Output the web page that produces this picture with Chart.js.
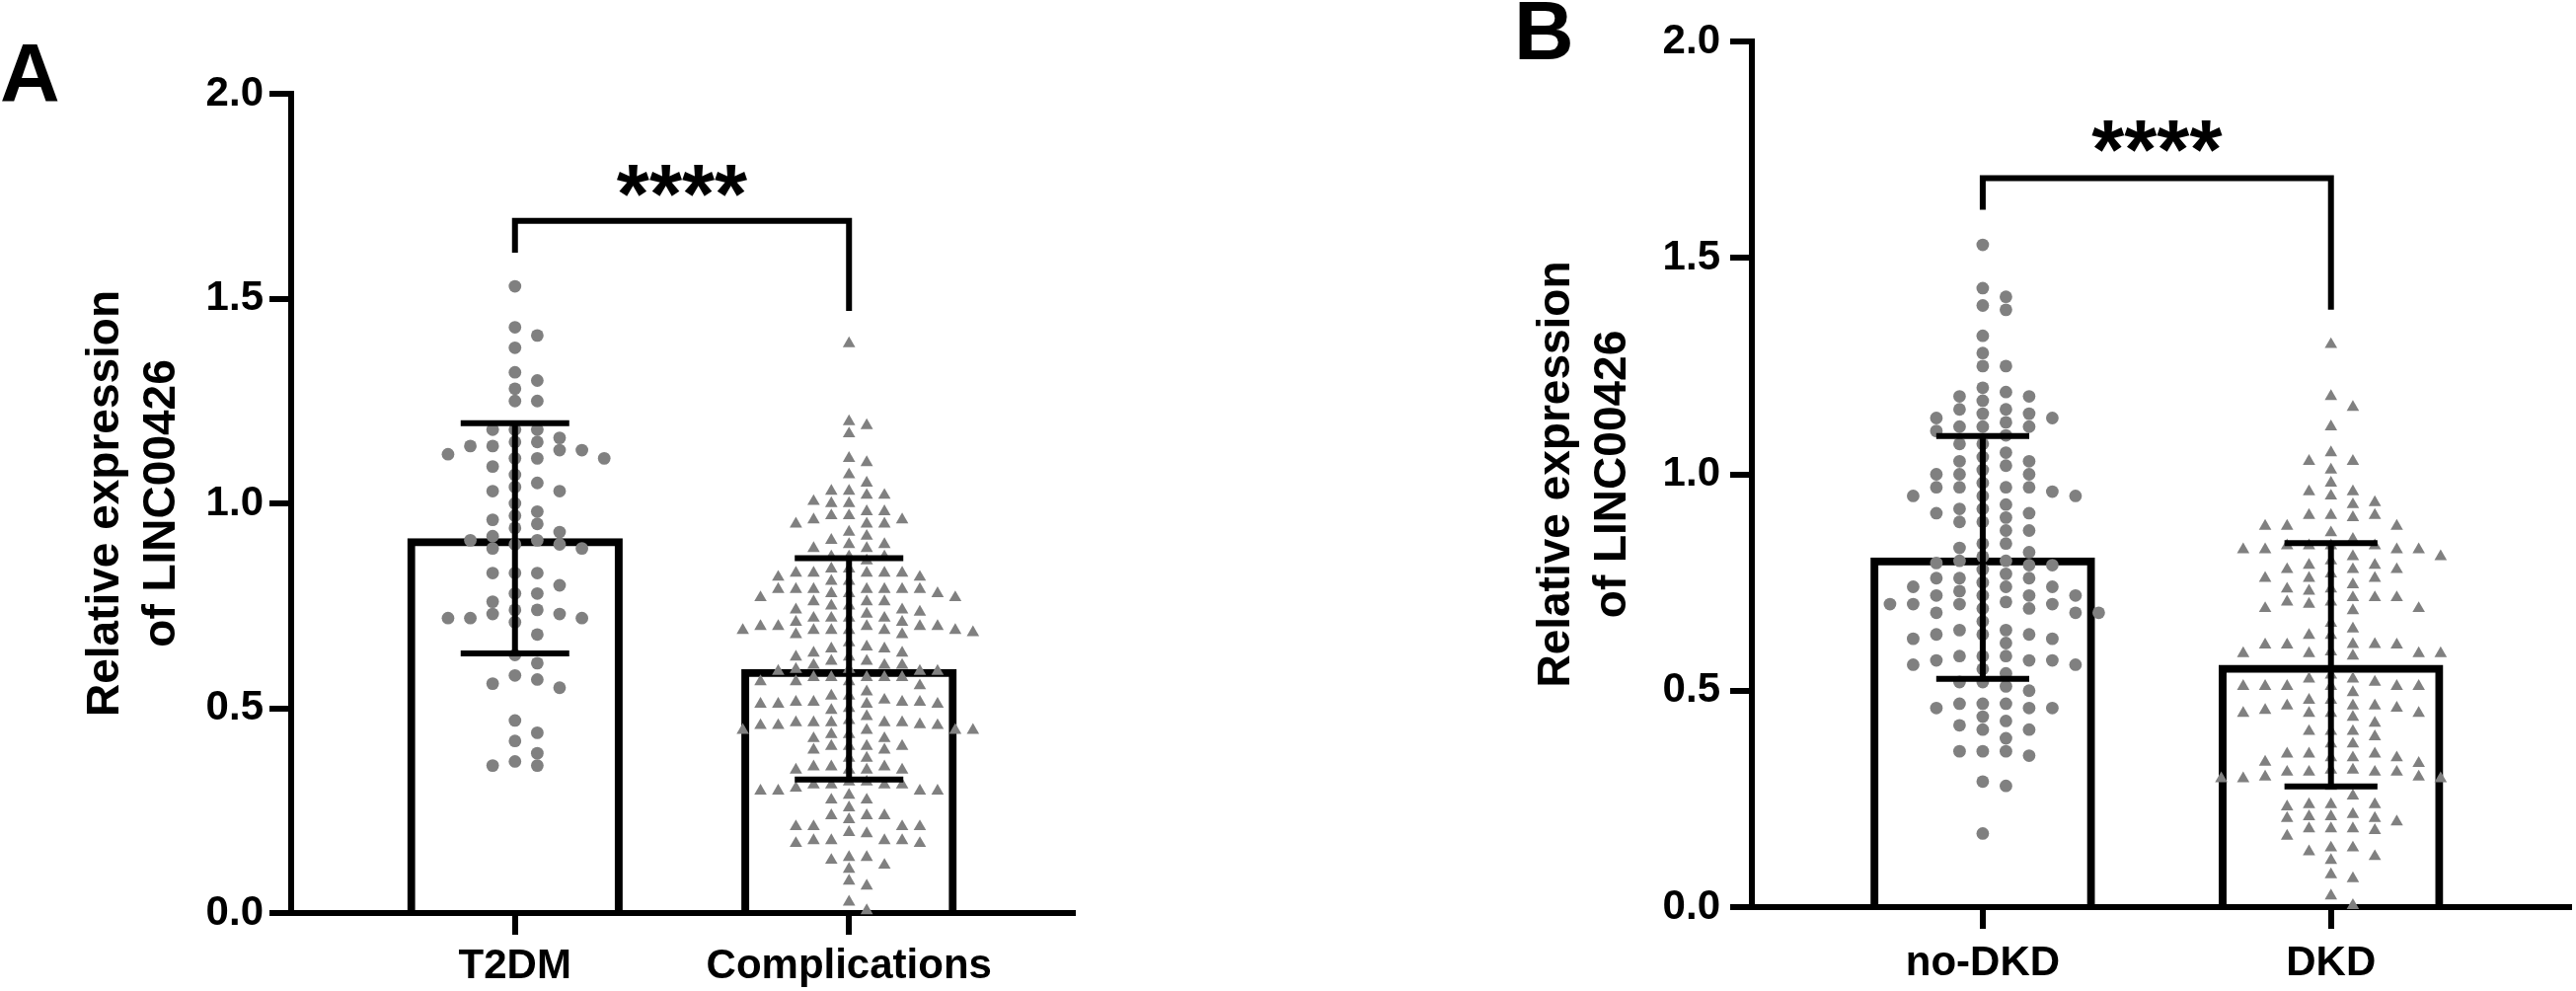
<!DOCTYPE html>
<html lang="en">
  <head>
    <meta charset="UTF-8" />
    <title>LINC00426 expression</title>
    <script src="https://cdn.jsdelivr.net/npm/chart.js"></script>
    <style>
      body { margin: 0; background: #fff; width: 2610px; height: 1004px; position: relative; overflow: hidden; }
      canvas { position: absolute; top: 0; }
      #chartA { left: 0; }
      #chartB { left: 1470px; }
      .panel-letter {
        position: absolute;
        font-family: "Liberation Sans", Arial, sans-serif;
        font-weight: bold;
        font-size: 84px;
        line-height: 84px;
        color: #000;
      }
    </style>
  </head>
  <body>
    <div class="panel-letter" style="left: 0; top: 32px">A</div>
    <div class="panel-letter" style="left: 1534px; top: -11px">B</div>
    <canvas id="chartA" width="1100" height="1004"></canvas>
    <canvas id="chartB" width="1140" height="1004"></canvas>

    <script>
      // ---- data ----
      var yTitle = ["Relative expression", "of LINC00426"];
      var yTicks = [0, 0.5, 1.0, 1.5, 2.0];

      // panel A
      var categoriesA = ["T2DM", "Complications"];
      var meansA = [0.915, 0.596];
      var sdA = [0.281, 0.27];
      var t2dm = [
        1.53, 1.43, 1.41, 1.38, 1.32, 1.3, 1.28, 1.25, 1.25, 1.18, 1.18, 1.18,
        1.16, 1.15, 1.15, 1.14, 1.14, 1.13, 1.13, 1.12, 1.11, 1.11, 1.11, 1.09,
        1.07, 1.05, 1.04, 1.03, 1.03, 1.0, 0.98, 0.97, 0.96, 0.95, 0.94, 0.93,
        0.92, 0.91, 0.91, 0.9, 0.9, 0.89, 0.89, 0.83, 0.83, 0.83, 0.8, 0.78,
        0.78, 0.76, 0.74, 0.74, 0.73, 0.73, 0.72, 0.72, 0.72, 0.71, 0.68, 0.63,
        0.61, 0.58, 0.57, 0.56, 0.55, 0.47, 0.44, 0.42, 0.39, 0.37, 0.36, 0.36,
      ];
      var complications = [
        1.39, 1.2, 1.19, 1.17, 1.11, 1.1, 1.07, 1.05, 1.03, 1.03, 1.02, 1.02,
        1.005, 1.0, 1.0, 0.98, 0.98, 0.97, 0.97, 0.96, 0.96, 0.95, 0.95, 0.95,
        0.93, 0.92, 0.91, 0.9, 0.9, 0.89, 0.89, 0.87, 0.87, 0.87, 0.86, 0.84,
        0.84, 0.83, 0.83, 0.83, 0.83, 0.83, 0.82, 0.82, 0.81, 0.81, 0.79, 0.79,
        0.79, 0.79, 0.79, 0.79, 0.79, 0.78, 0.78, 0.78, 0.77, 0.77, 0.76, 0.76,
        0.76, 0.75, 0.75, 0.74, 0.74, 0.735, 0.73, 0.72, 0.72, 0.72, 0.72, 0.71,
        0.71, 0.7, 0.7, 0.7, 0.7, 0.7, 0.69, 0.69, 0.69, 0.69, 0.69, 0.69,
        0.685, 0.68, 0.68, 0.66, 0.65, 0.645, 0.645, 0.635, 0.635, 0.625, 0.625,
        0.615, 0.615, 0.605, 0.605, 0.605, 0.595, 0.595, 0.59, 0.59, 0.59,
        0.575, 0.575, 0.575, 0.575, 0.575, 0.565, 0.565, 0.565, 0.555, 0.54,
        0.53, 0.53, 0.52, 0.515, 0.515, 0.515, 0.515, 0.51, 0.51, 0.51, 0.51,
        0.5, 0.495, 0.48, 0.47, 0.465, 0.465, 0.465, 0.465, 0.465, 0.46, 0.458,
        0.458, 0.458, 0.446, 0.446, 0.446, 0.446, 0.436, 0.436, 0.426, 0.426,
        0.407, 0.407, 0.407, 0.407, 0.398, 0.398, 0.378, 0.378, 0.357, 0.357,
        0.357, 0.349, 0.349, 0.349, 0.349, 0.32, 0.32, 0.313, 0.313, 0.313,
        0.313, 0.305, 0.298, 0.298, 0.298, 0.298, 0.288, 0.276, 0.276, 0.257,
        0.238, 0.238, 0.238, 0.228, 0.211, 0.211, 0.211, 0.211, 0.197, 0.194,
        0.177, 0.177, 0.177, 0.177, 0.17, 0.17, 0.136, 0.136, 0.129, 0.117,
        0.107, 0.078, 0.066, 0.027, 0.006,
      ];

      // panel B
      var categoriesB = ["no-DKD", "DKD"];
      var meansB = [0.808, 0.56];
      var sdB = [0.2805, 0.281];
      var noDkd = [
        1.53, 1.43, 1.41, 1.39, 1.38, 1.32, 1.28, 1.25, 1.25, 1.2, 1.19, 1.18,
        1.18, 1.17, 1.15, 1.15, 1.14, 1.14, 1.13, 1.13, 1.12, 1.11, 1.11, 1.11,
        1.1, 1.09, 1.07, 1.07, 1.05, 1.04, 1.03, 1.03, 1.02, 1.01, 1.0, 1.0,
        1.0, 0.98, 0.97, 0.97, 0.97, 0.97, 0.96, 0.95, 0.95, 0.95, 0.93, 0.92,
        0.92, 0.91, 0.91, 0.9, 0.89, 0.89, 0.87, 0.87, 0.84, 0.84, 0.83, 0.82,
        0.81, 0.8, 0.8, 0.795, 0.79, 0.79, 0.78, 0.77, 0.76, 0.76, 0.76, 0.75,
        0.74, 0.74, 0.74, 0.73, 0.72, 0.72, 0.72, 0.72, 0.705, 0.7, 0.7, 0.7,
        0.7, 0.69, 0.69, 0.68, 0.68, 0.68, 0.66, 0.64, 0.64, 0.63, 0.63, 0.63,
        0.62, 0.62, 0.61, 0.58, 0.58, 0.58, 0.57, 0.57, 0.57, 0.56, 0.56, 0.55,
        0.54, 0.52, 0.52, 0.51, 0.5, 0.47, 0.47, 0.47, 0.46, 0.46, 0.46, 0.44,
        0.43, 0.42, 0.41, 0.41, 0.39, 0.36, 0.36, 0.36, 0.35, 0.29, 0.28, 0.17,
      ];
      var dkd = [
        1.3, 1.18, 1.155, 1.11, 1.05, 1.03, 1.03, 1.01, 0.98, 0.96, 0.96, 0.95,
        0.935, 0.93, 0.905, 0.905, 0.905, 0.9, 0.88, 0.88, 0.88, 0.865, 0.85,
        0.835, 0.835, 0.835, 0.835, 0.826, 0.826, 0.826, 0.826, 0.81, 0.81, 0.8,
        0.79, 0.79, 0.78, 0.78, 0.78, 0.77, 0.76, 0.76, 0.76, 0.745, 0.735,
        0.735, 0.73, 0.715, 0.715, 0.715, 0.705, 0.705, 0.7, 0.69, 0.69, 0.685,
        0.656, 0.643, 0.628, 0.628, 0.607, 0.607, 0.606, 0.606, 0.606, 0.59,
        0.586, 0.586, 0.586, 0.586, 0.58, 0.536, 0.527, 0.527, 0.52, 0.51, 0.51,
        0.51, 0.51, 0.51, 0.51, 0.496, 0.478, 0.478, 0.465, 0.465, 0.465, 0.46,
        0.455, 0.448, 0.448, 0.448, 0.448, 0.439, 0.425, 0.406, 0.406, 0.406,
        0.394, 0.377, 0.377, 0.354, 0.354, 0.354, 0.345, 0.345, 0.345, 0.335,
        0.332, 0.317, 0.317, 0.312, 0.312, 0.312, 0.312, 0.301, 0.301, 0.297,
        0.297, 0.297, 0.279, 0.257, 0.237, 0.237, 0.237, 0.232, 0.214, 0.209,
        0.209, 0.205, 0.205, 0.197, 0.181, 0.181, 0.181, 0.177, 0.164, 0.137,
        0.137, 0.128, 0.117, 0.108, 0.075, 0.066, 0.026, 0.004,
      ];

      var FONT = '"Liberation Sans", Arial, sans-serif';
      var GREY = "#808080";

      // simple beeswarm: fill columns outward from the centre, keeping a
      // minimum vertical gap between points that share a column
      function swarm(values, centre, colStep, gap) {
        var cols = {};
        return values
          .slice()
          .sort(function (a, b) { return b - a; })
          .map(function (v) {
            for (var k = 0; ; k++) {
              var c = k === 0 ? 0 : k % 2 ? (k + 1) / 2 : -k / 2;
              var list = cols[c] || (cols[c] = []);
              var free = list.every(function (u) { return Math.abs(u - v) >= gap; });
              if (free) {
                list.push(v);
                return { x: centre + c * colStep, y: v };
              }
            }
          });
      }

      // error bars, comparison bracket and stars
      var annotPlugin = {
        id: "annot",
        afterDatasetsDraw: function (chart, args, opts) {
          var ctx = chart.ctx;
          var xs = chart.scales.x;
          var ys = chart.scales.y;
          ctx.save();
          ctx.strokeStyle = "#000";
          ctx.fillStyle = "#000";
          ctx.lineWidth = 6;
          ctx.lineCap = "butt";
          ctx.lineJoin = "miter";

          opts.means.forEach(function (m, i) {
            var x = xs.getPixelForValue(i + 1);
            var half = xs.getPixelForValue(i + 1 + opts.capWidth / 2) - x;
            var hi = ys.getPixelForValue(m + opts.sd[i]);
            var lo = ys.getPixelForValue(m - opts.sd[i]);
            ctx.beginPath();
            ctx.moveTo(x, hi);
            ctx.lineTo(x, lo);
            ctx.moveTo(x - half, hi);
            ctx.lineTo(x + half, hi);
            ctx.moveTo(x - half, lo);
            ctx.lineTo(x + half, lo);
            ctx.stroke();
          });

          var b = opts.bracket;
          var x1 = xs.getPixelForValue(1);
          var x2 = xs.getPixelForValue(2);
          var yb = ys.getPixelForValue(b.top);
          ctx.beginPath();
          ctx.moveTo(x1, ys.getPixelForValue(b.left));
          ctx.lineTo(x1, yb);
          ctx.lineTo(x2, yb);
          ctx.lineTo(x2, ys.getPixelForValue(b.right));
          ctx.stroke();

          ctx.font = "bold 85px " + FONT;
          ctx.textAlign = "center";
          ctx.textBaseline = "alphabetic";
          var tm = ctx.measureText(b.label);
          var cy = ys.getPixelForValue(b.labelAt);
          ctx.fillText(
            b.label,
            (x1 + x2) / 2,
            cy + (tm.actualBoundingBoxAscent - tm.actualBoundingBoxDescent) / 2
          );
          ctx.restore();
        },
      };

      function makeChart(id, p) {
        var tickFont = { family: FONT, size: 42, weight: "bold" };
        return new Chart(document.getElementById(id), {
          type: "bar",
          data: {
            datasets: [
              {
                type: "bar",
                data: p.means.map(function (m, i) { return { x: i + 1, y: m }; }),
                backgroundColor: "rgba(0,0,0,0)",
                borderColor: "#000",
                borderWidth: 8,
                borderSkipped: "bottom",
                barPercentage: 0.645,
                categoryPercentage: 1,
                order: 3,
              },
              {
                type: "scatter",
                data: swarm(p.first, 1, p.steps[0], p.gaps[0]),
                pointStyle: p.styles[0],
                pointRadius: p.radii[0],
                backgroundColor: GREY,
                borderWidth: 0,
                clip: false,
                order: 1,
              },
              {
                type: "scatter",
                data: swarm(p.second, 2, p.steps[1], p.gaps[1]),
                pointStyle: p.styles[1],
                pointRadius: p.radii[1],
                backgroundColor: GREY,
                borderWidth: 0,
                clip: false,
                order: 2,
              },
            ],
          },
          options: {
            responsive: false,
            animation: false,
            events: [],
            layout: { padding: p.padding },
            plugins: {
              legend: { display: false },
              tooltip: { enabled: false },
              annot: {
                means: p.means,
                sd: p.sd,
                capWidth: p.capWidth,
                bracket: p.bracket,
              },
            },
            scales: {
              x: {
                type: "linear",
                min: p.xRange[0],
                max: p.xRange[1],
                offset: false,
                afterBuildTicks: function (s) {
                  s.ticks = p.categories.map(function (c, i) { return { value: i + 1 }; });
                },
                afterFit: function (s) { s.height = p.xAxisHeight; },
                ticks: {
                  autoSkip: false,
                  maxRotation: 0,
                  color: "#000",
                  font: tickFont,
                  padding: p.xLabelPad,
                  callback: function (v) { return p.categories[v - 1]; },
                },
                grid: { drawOnChartArea: false, offset: false, tickLength: 22, lineWidth: 6, color: "#000" },
                border: { display: true, width: 6, color: "#000" },
              },
              y: {
                min: 0,
                max: 2,
                afterBuildTicks: function (s) {
                  s.ticks = yTicks.map(function (v) { return { value: v }; });
                },
                afterFit: function (s) { s.width = p.yAxisWidth; },
                ticks: {
                  color: "#000",
                  font: tickFont,
                  padding: p.yLabelPad,
                  callback: function (v) { return v.toFixed(1); },
                },
                grid: { drawOnChartArea: false, tickLength: 22, lineWidth: 6, color: "#000" },
                border: { display: true, width: 6, color: "#000" },
                title: {
                  display: true,
                  text: yTitle,
                  color: "#000",
                  font: { family: FONT, size: 46, weight: "bold", lineHeight: 1.24 },
                  padding: { top: 79, bottom: 0 },
                },
              },
            },
          },
          plugins: [annotPlugin],
        });
      }

      makeChart("chartA", {
        categories: categoriesA,
        means: meansA,
        sd: sdA,
        first: t2dm,
        second: complications,
        styles: ["circle", "triangle"],
        radii: [6.4, 7.3],
        steps: [0.0668, 0.053],
        gaps: [0.03, 0.027],
        xRange: [0.33, 2.67],
        padding: { top: 95, right: 13, bottom: 0, left: 0 },
        xAxisHeight: 79,
        yAxisWidth: 295,
        xLabelPad: 7,
        yLabelPad: 6,
        capWidth: 0.325,
        bracket: { top: 1.69, left: 1.612, right: 1.47, label: "****", labelAt: 1.787 },
      });

      makeChart("chartB", {
        categories: categoriesB,
        means: meansB,
        sd: sdB,
        first: noDkd,
        second: dkd,
        styles: ["circle", "triangle"],
        radii: [6.4, 7.3],
        steps: [0.0666, 0.063],
        gaps: [0.0285, 0.026],
        xRange: [0.337, 2.683],
        padding: { top: 42, right: 0, bottom: 0, left: 0 },
        xAxisHeight: 85,
        yAxisWidth: 305,
        xLabelPad: 10,
        yLabelPad: 10,
        capWidth: 0.267,
        bracket: { top: 1.684, left: 1.611, right: 1.38, label: "****", labelAt: 1.782 },
      });
    </script>
  </body>
</html>
